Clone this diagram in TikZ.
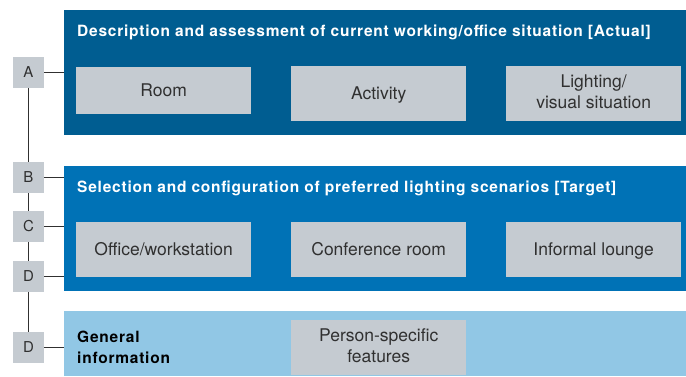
\documentclass[tikz,border=0pt]{standalone}
\usepackage{fontspec}
\setmainfont{TeX Gyre Heros}
\usetikzlibrary{positioning}
\definecolor{actual}{RGB}{0,93,145}
\definecolor{target}{RGB}{0,114,182}
\definecolor{general}{RGB}{145,199,229}
\definecolor{boxgrey}{RGB}{197,203,209}
\definecolor{textgrey}{RGB}{48,48,48}
\newcommand\itemstrut{\vrule height 16.5pt depth 4pt width 0pt}

\begin{document}
\begin{tikzpicture}[x=1pt,y=-1pt,
        panel/.style={anchor=north west,inner sep=0pt,minimum width=622pt},
        item/.style={anchor=north west,fill=boxgrey,inner sep=0pt,align=center,minimum width=175pt,minimum height=55pt,text=textgrey,font=\fontsize{17.5}{21}\selectfont,
            execute at begin node=\itemstrut,execute at end node=\itemstrut},
        letter/.style={fill=boxgrey,inner sep=0pt,minimum size=31pt,text=textgrey,font=\fontsize{15}{18}\selectfont},
        heading/.style={anchor=base west,inner sep=0pt,align=left,font=\bfseries\fontsize{15.5}{21}\selectfont\addfontfeatures{LetterSpace=5}},
        link/.style={draw=textgrey,line width=1pt}]
        \useasboundingbox (0,0) rectangle (686,376);
        % the three panels
        \node[panel, fill=actual, minimum height=125pt] (act) at (64,10) {};
        \node[panel, fill=target, minimum height=125pt] (tgt) at (64,166) {};
        \node[panel, fill=general, minimum height=65pt] (gen) at (64,311) {};
        \node[heading, text=white] (acttitle) at (77,36) {Description and assessment of current working/office situation [Actual]};
        \node[heading, text=white] (tgttitle) at (77,192) {Selection and configuration of preferred lighting scenarios [Target]};
        \node[heading, text=black] (gentitle) at (77,363) {General\\information};
        % boxes inside the panels
        \node[item, minimum height=47pt] (room) at (76,67) {Room};
        \node[item] (activity) at (291,66) {Activity};
        \node[item] (lighting) at (506,66) {Lighting/\\visual situation};
        \node[item] (office) at (76,222) {Office/workstation};
        \node[item] (conference) at (291,222) {Conference room};
        \node[item] (lounge) at (506,222) {Informal lounge};
        \node[item] (person) at (291,320) {Person-specific\\features};
        % letters on the left
        \node[letter] (la) at (28.5,72.5) {A};
        \node[letter] (lb) at (28.5,177.5) {B};
        \node[letter] (lc) at (28.5,226.5) {C};
        \node[letter] (ld) at (28.5,276.5) {D};
        \node[letter] (le) at (28.5,347.5) {D};
        \draw[link] (la.south) -- (lb.north);
        \draw[link] (lb.south) -- (lc.north);
        \draw[link] (lc.south) -- (ld.north);
        \draw[link] (ld.south) -- (le.north);
        \draw[link] (la.east) -- (la.east -| act.west);
        \draw[link] (lb.east) -- (lb.east -| tgt.west);
        \draw[link] (lc.east) -- (lc.east -| tgt.west);
        \draw[link] (ld.east) -- (ld.east -| tgt.west);
        \draw[link] (le.east) -- (le.east -| gen.west);
\end{tikzpicture}
\end{document}
